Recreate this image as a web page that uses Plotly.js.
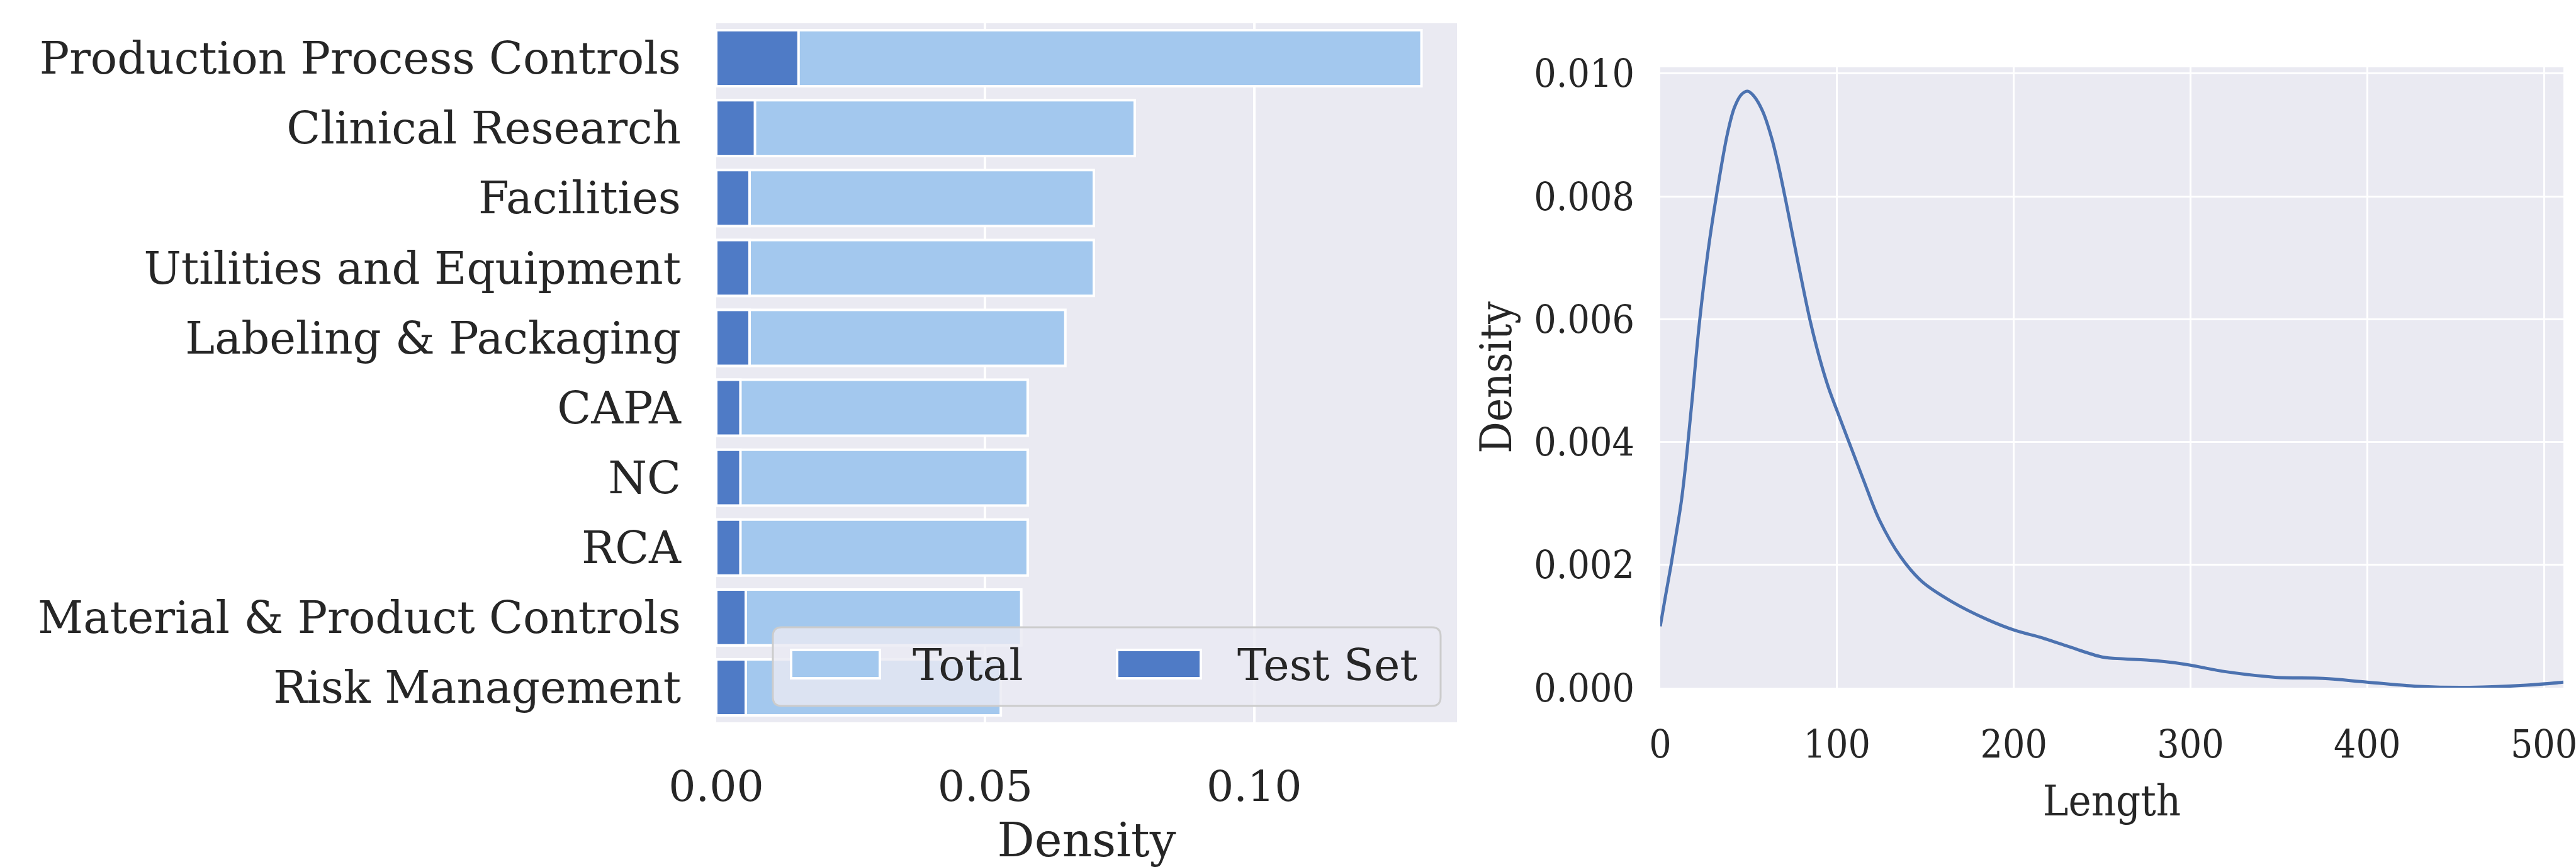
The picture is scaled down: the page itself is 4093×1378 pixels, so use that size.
<!DOCTYPE html>
<html>
<head>
<meta charset="utf-8">
<script src="https://cdn.plot.ly/plotly-3.0.1.min.js"></script>
<style>html,body{margin:0;padding:0;background:#fff;}#chart{width:4093px;height:1378px;}</style>
</head>
<body>
<div id="chart"></div>
<script>
// ---- data ----
const categories = ["Production Process Controls","Clinical Research","Facilities","Utilities and Equipment","Labeling & Packaging","CAPA","NC","RCA","Material & Product Controls","Risk Management"];
const totalDensity = [0.1311,0.0778,0.0702,0.0702,0.0649,0.0579,0.0579,0.0579,0.0567,0.0529];
const testDensity  = [0.0153,0.0072,0.0062,0.0062,0.0062,0.0045,0.0045,0.0045,0.0055,0.0055];
const barXTicks = [0, 0.05, 0.10];
const barXTickText = ["0.00","0.05","0.10"];

const lengthGrid    = [0,3,6,9,12,15,18,22,27,32,38,42,46,49.5,53,58,63,67,71,75,80,85,90,95,100,107,115,124,136,148,165,185,201,215,230,250,262,275,295,320,348,375,400,430,458,490,511];
const lengthDensity = [0.00100,0.00150,0.00198,0.00250,0.00305,0.00380,0.00468,0.00590,0.00710,0.00805,0.00902,0.00945,0.00966,0.00971,0.00963,0.00938,0.00895,0.00848,0.00793,0.00735,0.00663,0.00595,0.00538,0.00490,0.00451,0.00398,0.00338,0.00273,0.00213,0.00173,0.00140,0.00111,0.00093,0.00082,0.00068,0.00050,0.00047,0.00045,0.00039,0.00026,0.00017,0.00015,0.00009,0.00002,0.000005,0.00004,0.00009];
const kdeXTicks = [0,100,200,300,400,500];
const kdeYTicks = [0,0.002,0.004,0.006,0.008,0.010];
const kdeYTickText = ["0.000","0.002","0.004","0.006","0.008","0.010"];

// ---- layout helpers ----
const W = 4093, H = 1378;
const px = x => x / W;
const py = y => 1 - y / H;
const TXT = '#262626';
const SERIF = 'DejaVu Serif';
const SERIF_C = 'DejaVu Serif Condensed, DejaVu Serif';
const LIGHT = '#a3c8ee', DARK = '#4f7bc6', LINE = '#4c72b0';

const traces = [
  {type:'bar', orientation:'h', y:categories, x:totalDensity, name:'Total', width:0.8,
   marker:{color:LIGHT, line:{color:'white', width:4}}, xaxis:'x', yaxis:'y', showlegend:false},
  {type:'bar', orientation:'h', y:categories, x:testDensity, name:'Test Set', width:0.8,
   marker:{color:DARK, line:{color:'white', width:4}}, xaxis:'x', yaxis:'y', showlegend:false},
  {type:'scatter', mode:'lines', x:lengthGrid, y:lengthDensity, name:'Length',
   line:{color:LINE, width:5, shape:'spline', smoothing:1}, xaxis:'x2', yaxis:'y2', showlegend:false}
];

// custom legend (matplotlib style box)
function roundRect(x0,y0,x1,y1,r){
  const rx = r / W, ry = r / H;
  const X0=px(x0), X1=px(x1), Y0=py(y0), Y1=py(y1);
  return `M${X0+rx},${Y0} L${X1-rx},${Y0} Q${X1},${Y0} ${X1},${Y0-ry} L${X1},${Y1+ry} Q${X1},${Y1} ${X1-rx},${Y1} L${X0+rx},${Y1} Q${X0},${Y1} ${X0},${Y1+ry} L${X0},${Y0-ry} Q${X0},${Y0} ${X0+rx},${Y0} Z`;
}
const shapes = [
  {type:'path', xref:'paper', yref:'paper', path:roundRect(1228,997,2289,1122,14),
   fillcolor:'rgba(234,234,242,0.8)', line:{color:'#cccccc', width:3}, layer:'above'},
  {type:'rect', xref:'paper', yref:'paper', x0:px(1257), x1:px(1398), y0:py(1078), y1:py(1033),
   fillcolor:LIGHT, line:{color:'white', width:4}, layer:'above'},
  {type:'rect', xref:'paper', yref:'paper', x0:px(1775), x1:px(1908), y0:py(1078), y1:py(1033),
   fillcolor:DARK, line:{color:'white', width:4}, layer:'above'}
];
const annotations = [
  {xref:'paper', yref:'paper', x:px(1448), y:py(1057), xanchor:'left', yanchor:'middle', showarrow:false,
   text:'Total', font:{family:SERIF, size:70, color:TXT}},
  {xref:'paper', yref:'paper', x:px(1964), y:py(1057), xanchor:'left', yanchor:'middle', showarrow:false,
   text:'Test Set', font:{family:SERIF, size:70, color:TXT}}
];

const layout = {
  width: W, height: H,
  margin:{l:0, r:0, t:0, b:0},
  paper_bgcolor:'#ffffff', plot_bgcolor:'#eaeaf2',
  font:{family:SERIF, color:TXT},
  barmode:'overlay',
  showlegend:false,
  xaxis:{domain:[px(1138), px(2315)], range:[0, 0.1377], anchor:'y',
    tickvals:barXTicks, ticktext:barXTickText, ticks:'', showgrid:true, gridcolor:'#ffffff', gridwidth:4,
    zeroline:false, showline:false, tickfont:{family:SERIF, size:68, color:TXT}, ticklabelstandoff:56,
    ticklabeloverflow:'allow',
    title:{text:'Density', font:{family:SERIF, size:74, color:TXT}, standoff:30}},
  yaxis:{domain:[py(1148), py(37)], type:'category', range:[9.5, -0.5], anchor:'x',
    ticks:'', showgrid:false, zeroline:false, showline:false, ticklabelstandoff:55,
    tickfont:{family:SERIF, size:70.5, color:TXT}},
  xaxis2:{domain:[px(2638), px(4073)], range:[0, 511], anchor:'y2',
    tickvals:kdeXTicks, ticks:'', showgrid:true, gridcolor:'#ffffff', gridwidth:3,
    zeroline:false, showline:false, tickfont:{family:SERIF_C, size:62, color:TXT}, ticklabelstandoff:48,
    ticklabeloverflow:'allow',
    title:{text:'Length', font:{family:SERIF_C, size:68, color:TXT}, standoff:30}},
  yaxis2:{domain:[py(1093), py(107)], range:[0, 0.0101], anchor:'x2',
    tickvals:kdeYTicks, ticktext:kdeYTickText, ticks:'', showgrid:true, gridcolor:'#ffffff', gridwidth:3,
    zeroline:false, showline:false, tickfont:{family:SERIF_C, size:62, color:TXT}, ticklabelstandoff:40,
    ticklabeloverflow:'allow',
    title:{text:'Density', font:{family:SERIF_C, size:70, color:TXT}, standoff:12}},
  shapes: shapes,
  annotations: annotations
};

Plotly.newPlot('chart', traces, layout, {staticPlot:true, displayModeBar:false});
</script>
</body>
</html>
